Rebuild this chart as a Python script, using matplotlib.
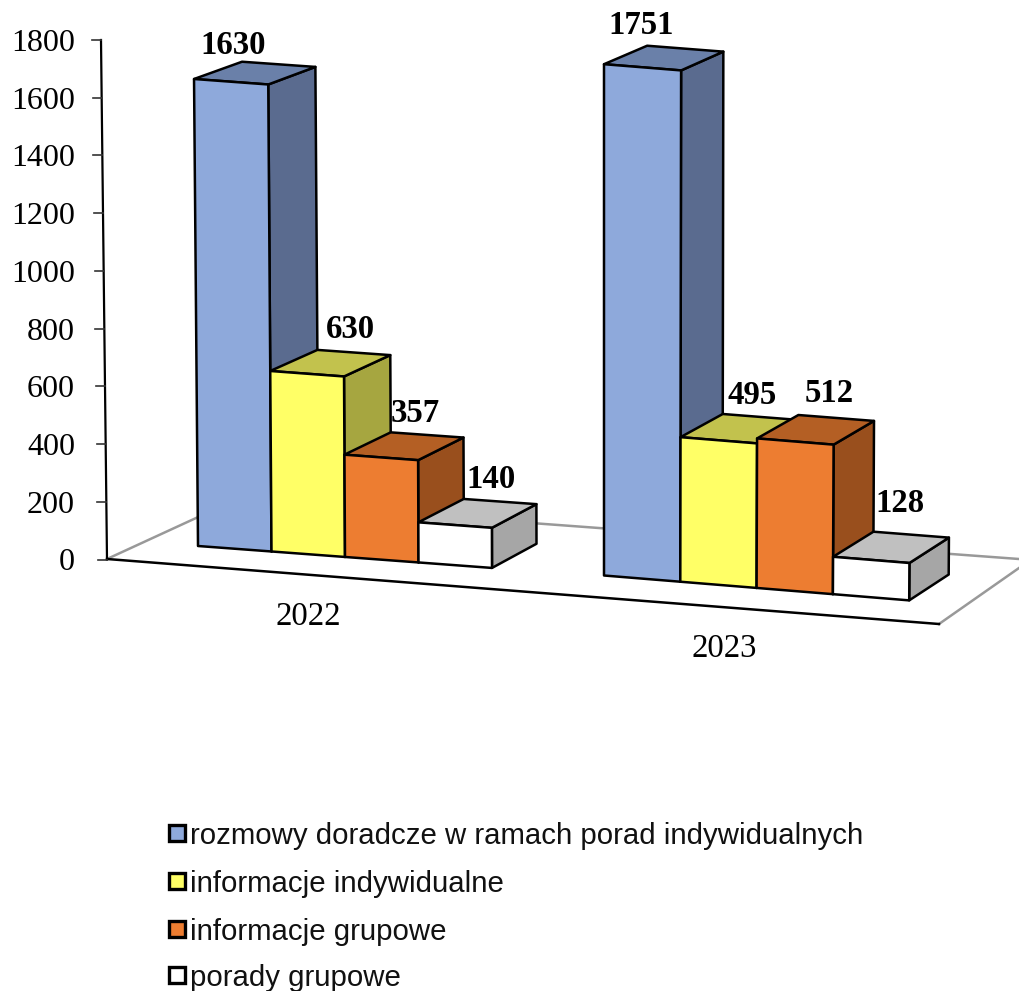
import matplotlib
matplotlib.use("Agg")
import matplotlib.pyplot as plt
from matplotlib.patches import Polygon, Rectangle

years = ["2022", "2023"]
series_names = ["rozmowy doradcze w ramach porad indywidualnych",
                "informacje indywidualne", "informacje grupowe", "porady grupowe"]
values_2022 = [1630, 630, 357, 140]
values_2023 = [1751, 495, 512, 128]
axis_ticks = [0, 200, 400, 600, 800, 1000, 1200, 1400, 1600, 1800]

front_colors = ["#8EA9DB", "#FFFF66", "#ED7D31", "#FFFFFF"]
top_colors = ["#6A80A9", "#C2C24D", "#B45F24", "#C0C0C0"]
side_colors = ["#5A6B8F", "#A6A640", "#994F1D", "#A6A6A6"]

# projection settings (pixel space of the reference picture)
groups = [
    dict(values=values_2022, x0=198.0, y0=546.0, w=73.5, slope=0.0746, scale=0.2865,
         label_xy=(308, 617)),
    dict(values=values_2023, x0=604.0, y0=575.5, w=76.3, slope=0.0815, scale=0.292,
         label_xy=(724, 649)),
]
value_label_xy = [[(233, 45), (350, 330), (415, 413), (491, 480)],
                  [(641, 26), (752, 396), (829, 393), (900, 504)]]

fig = plt.figure(figsize=(10.19, 9.91), dpi=100)
ax = fig.add_axes([0, 0, 1, 1])
ax.set_xlim(0, 1019)
ax.set_ylim(991, 0)
ax.axis("off")

SERIF = "Liberation Serif"
SANS = "Liberation Sans"
GREY = "#999999"
FS = 23.6

# floor
ax.plot([107, 233, 1019], [559, 501, 559], color=GREY, lw=1.8, zorder=1, solid_capstyle="round")
ax.plot([939, 1019], [624, 568], color=GREY, lw=1.8, zorder=1)
ax.plot([107, 939], [559, 624], color="black", lw=1.8, zorder=1)

# value axis
def axis_point(v):
    return 107 - 6 * v / 1800, 559.5 - 519.5 * v / 1800

ax.plot(*zip(axis_point(0), axis_point(1800)), color="black", lw=1.6, zorder=2)
for v in axis_ticks:
    px, py = axis_point(v)
    ax.plot([px - 9, px], [py, py], color="#333333", lw=1.2, zorder=2)
    ax.text(75, py, str(v), ha="right", va="center_baseline", family=SERIF, fontsize=23)


def lean(x, v):
    return x + (x - 604) * 6e-6 * v


def depth(x, v):
    return 48 - (x - 200) * 0.012, -(23 + (x - 200) * 0.004) + v * 0.0035


def draw_bar(g, i, v):
    xl = g["x0"] + i * g["w"]
    xr = xl + g["w"]
    yl = g["y0"] + (xl - g["x0"]) * g["slope"]
    yr = g["y0"] + (xr - g["x0"]) * g["slope"]
    h = v * g["scale"]
    tl = (lean(xl, v), yl - h)
    tr = (lean(xr, v), yr - h)
    bl, br = (xl, yl), (xr, yr)
    d_l, d_r = depth(xl, v), depth(xr, v)
    d_0 = depth(xr, 0)
    tbl = (tl[0] + d_l[0], tl[1] + d_l[1])
    tbr = (tr[0] + d_r[0], tr[1] + d_r[1])
    bbr = (br[0] + d_0[0], br[1] + d_0[1])
    kw = dict(edgecolor="black", lw=1.8, joinstyle="round", zorder=3)
    ax.add_patch(Polygon([br, tr, tbr, bbr], facecolor=side_colors[i], **kw))
    ax.add_patch(Polygon([tl, tr, tbr, tbl], facecolor=top_colors[i], **kw))
    ax.add_patch(Polygon([bl, br, tr, tl], facecolor=front_colors[i], **kw))


for gi, g in enumerate(groups):
    for i, v in enumerate(g["values"]):
        draw_bar(g, i, v)
        lx, ly = value_label_xy[gi][i]
        ax.text(lx, ly, str(v), ha="center", va="center", family=SERIF, fontsize=FS,
                fontweight="bold", zorder=5)
    ax.text(*g["label_xy"], years[gi], ha="center", va="center", family=SERIF, fontsize=FS)

# legend
for i, (name, y) in enumerate(zip(series_names, [833, 881, 929, 975])):
    ax.add_patch(Rectangle((169, y - 8), 16, 16, facecolor=front_colors[i],
                           edgecolor="black", lw=2.4, zorder=4))
    ax.text(190, y - 0.5, name, ha="left", va="center_baseline", family=SANS, fontsize=21.2,
            color="#111111")

fig.savefig("out.png", dpi=100)
